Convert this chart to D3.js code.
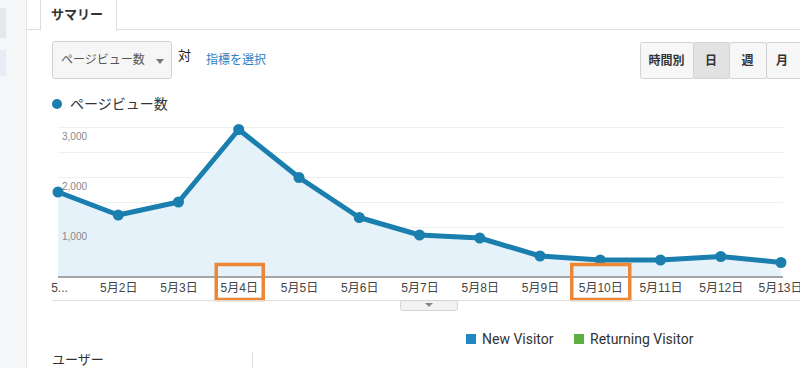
<!DOCTYPE html>
<html>
<head>
<meta charset="utf-8">
<script src="https://cdn.jsdelivr.net/npm/d3@7"></script>
<style>
  body { margin: 0; background: #fff; }
  svg { display: block; font-family: "Liberation Sans", "Noto Sans CJK JP", sans-serif; }
</style>
</head>
<body>
<div id="chart"></div>
<script>
// data
var days = ["5...", "5月2日", "5月3日", "5月4日", "5月5日", "5月6日", "5月7日", "5月8日", "5月9日", "5月10日", "5月11日", "5月12日", "5月13日"];
var pageViews = [1690, 1230, 1490, 2940, 1980, 1180, 830, 770, 410, 330, 330, 400, 280];
var yTicks = [1000, 2000, 3000];
var gridTicks = [1000, 1500, 2000, 2500, 3000];
var highlighted = ["5月4日", "5月10日"];
var legendItems = [{name: "New Visitor", color: "#1f87c1"}, {name: "Returning Visitor", color: "#5cb040"}];
var periodButtons = ["時間別", "日", "週", "月"];

var W = 800, H = 368;
var jp = '"Noto Sans CJK JP", sans-serif';
var lineColor = "#1a7fae";

var svg = d3.select('#chart').append('svg')
    .attr('width', W)
    .attr('height', H);

// left side strip
svg.append('rect').attr('x', 0).attr('y', 0).attr('width', 26).attr('height', H).attr('fill', '#f5f6f7');
svg.append('rect').attr('x', 0).attr('y', 8).attr('width', 6).attr('height', 30).attr('fill', '#e6e7e9');
svg.append('rect').attr('x', 0).attr('y', 50).attr('width', 6).attr('height', 26).attr('fill', '#e8ecf6');
svg.append('line').attr('x1', 26.5).attr('x2', 26.5).attr('y1', 0).attr('y2', H).attr('stroke', '#e4e4e4');

// tab
svg.append('line').attr('x1', 27).attr('x2', W).attr('y1', 29.5).attr('y2', 29.5).attr('stroke', '#ddd');
svg.append('rect').attr('x', 40.5).attr('y', -2).attr('width', 76).attr('height', 32)
    .attr('fill', '#fff').attr('stroke', '#ddd');
svg.append('rect').attr('x', 41).attr('y', 28).attr('width', 75).attr('height', 3).attr('fill', '#fff');
svg.append('text').attr('x', 51).attr('y', 19).text('サマリー')
    .attr('font-family', jp).attr('font-size', 13).attr('font-weight', 'bold').attr('fill', '#333');

// metric dropdown
svg.append('rect').attr('x', 52.5).attr('y', 41.5).attr('width', 119).attr('height', 37).attr('rx', 2)
    .attr('fill', '#f6f6f6').attr('stroke', '#d0d0d0');
svg.append('text').attr('x', 61).attr('y', 64).text('ページビュー数')
    .attr('font-family', jp).attr('font-size', 12).attr('fill', '#555');
svg.append('path').attr('d', 'M156,59 L164,59 L160,64 Z').attr('fill', '#777');
svg.append('text').attr('x', 178).attr('y', 60).text('対')
    .attr('font-family', jp).attr('font-size', 13).attr('fill', '#222');
svg.append('text').attr('x', 206).attr('y', 64).text('指標を選択')
    .attr('font-family', jp).attr('font-size', 12).attr('fill', '#2d7ec0');

// period buttons
var btnX = [640, 693, 729, 766, 804];
periodButtons.forEach(function(b, i) {
    svg.append('rect').attr('x', btnX[i] + 0.5).attr('y', 42.5)
        .attr('width', btnX[i + 1] - btnX[i]).attr('height', 36).attr('rx', 2)
        .attr('fill', i === 1 ? '#e2e2e2' : '#f7f7f7').attr('stroke', '#d2d2d2');
    svg.append('text').attr('x', (btnX[i] + Math.min(btnX[i + 1], 800)) / 2 + (i === 3 ? -1 : 0)).attr('y', 65)
        .attr('text-anchor', 'middle').text(b)
        .attr('font-family', jp).attr('font-size', 12).attr('font-weight', 'bold').attr('fill', '#333');
});

// series legend
svg.append('circle').attr('cx', 57).attr('cy', 104).attr('r', 5).attr('fill', lineColor);
svg.append('text').attr('x', 70).attr('y', 109).text('ページビュー数')
    .attr('font-family', jp).attr('font-size', 14).attr('fill', '#333');

// scales
var x = d3.scalePoint().domain(days).range([58, 781]);
var y = d3.scaleLinear().domain([0, 3000]).range([276.5, 126.5]);

// gridlines
svg.append('g').selectAll('line').data(gridTicks).enter().append('line')
    .attr('x1', 58).attr('x2', 783)
    .attr('y1', function(d) { return Math.round(y(d)) + 0.5; })
    .attr('y2', function(d) { return Math.round(y(d)) + 0.5; })
    .attr('stroke', '#efefef');

// area + line
var area = d3.area().x(function(d, i) { return x(days[i]); }).y0(y(0)).y1(function(d) { return y(d); });
var line = d3.line().x(function(d, i) { return x(days[i]); }).y(function(d) { return y(d); });

svg.append('path').datum(pageViews).attr('d', area).attr('fill', '#e5f2f9');

// y labels (drawn over the area)
svg.append('g').selectAll('text').data(yTicks).enter().append('text')
    .attr('x', 62).attr('y', function(d) { return y(d) + 13; })
    .text(function(d) { return d3.format(',')(d); })
    .attr('font-size', 10).attr('fill', '#888');

// baseline axis
var xAxis = svg.append('g').attr('transform', 'translate(0,' + y(0) + ')')
    .call(d3.axisBottom(x).tickSize(0).tickPadding(7));
xAxis.select('.domain').attr('d', 'M58,0.5H783').attr('stroke', '#888').attr('stroke-width', 1.5);
xAxis.selectAll('text').attr('font-family', '"Liberation Sans", "Noto Sans CJK JP", sans-serif')
    .attr('font-size', 12).attr('fill', '#444');
xAxis.selectAll('.tick text').filter(function(d) { return d === '5...'; }).attr('dx', 1);
xAxis.selectAll('.tick text').filter(function(d) { return d === '5月13日'; }).attr('dx', -1);

svg.append('path').datum(pageViews).attr('d', line)
    .attr('fill', 'none').attr('stroke', lineColor).attr('stroke-width', 5).attr('stroke-linejoin', 'round');

svg.append('g').selectAll('circle').data(pageViews).enter().append('circle')
    .attr('cx', function(d, i) { return x(days[i]); })
    .attr('cy', function(d) { return y(d); })
    .attr('r', 5.5).attr('fill', lineColor);

// highlight boxes
svg.append('g').selectAll('rect').data(highlighted).enter().append('rect')
    .attr('x', function(d) { return x(d) - (d.length > 4 ? 28.5 : 22.5); })
    .attr('y', 264.5)
    .attr('width', function(d) { return d.length > 4 ? 58 : 47; })
    .attr('height', 35)
    .attr('fill', 'none').attr('stroke', '#ec8737').attr('stroke-width', 3.5);

// divider + collapse handle
svg.append('line').attr('x1', 52).attr('x2', W).attr('y1', 300.5).attr('y2', 300.5).attr('stroke', '#ddd');
svg.append('rect').attr('x', 400.5).attr('y', 300.5).attr('width', 57).attr('height', 10).attr('rx', 2)
    .attr('fill', '#f2f2f2').attr('stroke', '#d4d4d4');
svg.append('path').attr('d', 'M425,303 L433,303 L429,307 Z').attr('fill', '#888');

// visitor legend
var lg = svg.append('g').selectAll('g').data(legendItems).enter().append('g')
    .attr('transform', function(d, i) { return 'translate(' + (i === 0 ? 466 : 574) + ',334)'; });
lg.append('rect').attr('width', 10).attr('height', 10).attr('fill', function(d) { return d.color; });
lg.append('text').attr('x', 16).attr('y', 10).text(function(d) { return d.name; })
    .attr('font-family', 'Roboto, sans-serif').attr('font-size', 14).attr('fill', '#333');

// users section
svg.append('text').attr('x', 52).attr('y', 364).text('ユーザー')
    .attr('font-family', jp).attr('font-size', 13).attr('fill', '#333');
svg.append('line').attr('x1', 252.5).attr('x2', 252.5).attr('y1', 352).attr('y2', H).attr('stroke', '#ddd');
</script>
</body>
</html>
